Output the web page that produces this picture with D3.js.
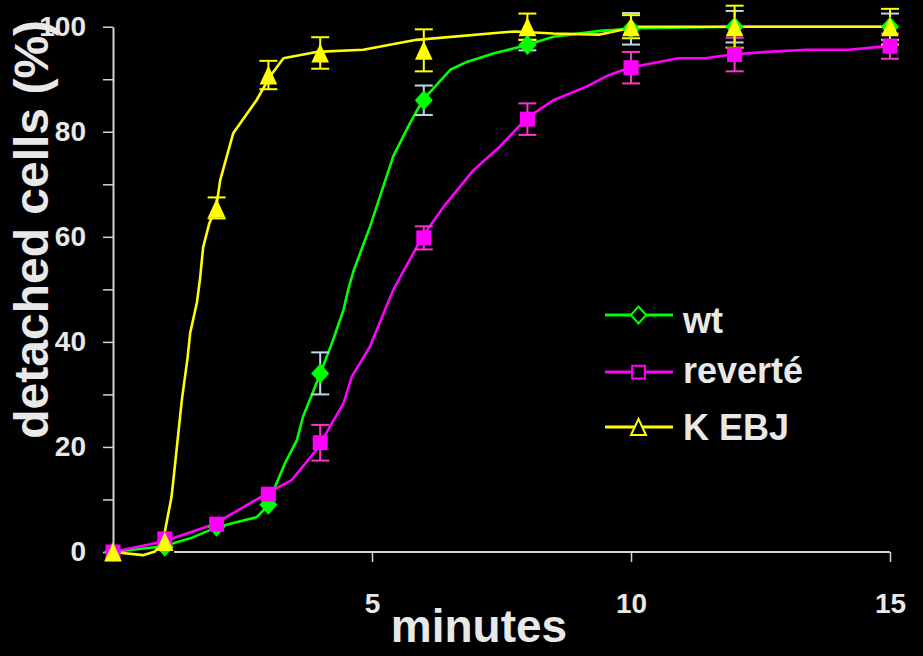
<!DOCTYPE html>
<html>
<head>
<meta charset="utf-8">
<script src="https://cdn.jsdelivr.net/npm/d3@7"></script>
<style>
  html, body { margin: 0; padding: 0; background: #000; }
  svg { display: block; }
  text { font-family: "Liberation Sans", Arial, sans-serif; font-weight: bold; fill: #e8e8e8; }
</style>
</head>
<body>
<svg id="chart" width="923" height="656"></svg>
<script>
// ---------- data ----------
const times = [0, 1, 2, 3, 4, 6, 8, 10, 12, 15];

const wtMean = [0, 1, 4.8, 9, 34, 86, 96.5, 99.6, 100, 100];
const wtErr  = [0, 0, 0, 0, 4, 2.8, 1, 3, 3, 2.5];

const revMean = [0, 2.5, 5.3, 11, 20.8, 59.8, 82.4, 92.2, 94.7, 96.3];
const revErr  = [0, 0, 0, 0, 3.4, 2.2, 3, 3, 3.2, 2.4];

const kebjMean = [0, 2, 65.5, 90.8, 95, 95.5, 100, 100, 100, 100];
const kebjErr  = [0, 0, 2, 2.7, 3, 4, 2.5, 2.2, 4, 3.4];

// curve traces: [minutes, %]
const wtCurve = [[0,0],[0.97,1.1],[1.49,2.6],[1.95,4.5],[2.32,5.5],[2.77,6.6],[3.0,8.9],[3.13,12.4],
  [3.32,16.9],[3.55,21.3],[3.67,25.8],[4.0,33.9],[4.25,40.4],[4.45,46.1],[4.54,49.9],[4.64,53.4],
  [4.96,61.9],[5.41,75.3],[5.73,81.6],[5.98,86],[6.51,91.8],[6.83,93.3],[7.34,94.9],[7.99,96.5],
  [8.5,98.1],[9.4,99.2],[10.17,99.7],[12,100],[15,100]];

const revCurve = [[0,0],[0.97,2],[1.95,5.3],[3.0,11.3],[3.45,13.7],[3.9,19.1],[4.0,20.6],[4.19,23.9],
  [4.45,28.3],[4.61,33.4],[4.96,39.1],[5.41,49.9],[5.8,56.9],[5.96,59.8],[6.38,65.7],[6.96,72.7],
  [7.47,77.2],[7.99,82.6],[8.5,86],[9.14,88.6],[9.53,90.6],[9.96,92.2],[10.91,94],[11.43,94],
  [11.95,94.7],[12.62,95.2],[13.39,95.6],[14.2,95.6],[14.96,96.3]];

const kebjCurve = [[0,0],[0.58,-0.6],[0.81,0.1],[0.97,2.3],[1.13,10.5],[1.18,15],[1.33,29],[1.44,37],
  [1.49,41.7],[1.62,47.5],[1.68,52],[1.74,58],[1.86,62.6],[1.99,65.5],[2.07,70.8],[2.32,79.7],
  [2.77,86],[3.03,90.5],[3.29,94],[3.93,95.2],[4.83,95.6],[5.86,97.5],[7.75,99.1],[8.5,98.7],
  [9.4,98.5],[10.1,100],[15,100]];

const seriesNames = ["wt", "revert\u00e9", "K EBJ"];
const xTickValues = [5, 10, 15];
const yTickValues = [0, 10, 20, 30, 40, 50, 60, 70, 80, 90, 100];
const xTitle = "minutes";
const yTitle = "detached cells (%)";

// ---------- layout ----------
const svg = d3.select("#chart");
const x = d3.scaleLinear().domain([0, 15]).range([113, 890]);
const y = d3.scaleLinear().domain([0, 100]).range([552, 26.7]);
const axisColor = "#d4d4d4";

const series = [
  { name: seriesNames[0], mean: wtMean, err: wtErr, curve: wtCurve, color: "#00ff00", errColor: "#b8dce4", shape: "diamond" },
  { name: seriesNames[1], mean: revMean, err: revErr, curve: revCurve, color: "#ff00ff", errColor: "#ff33cc", shape: "square" },
  { name: seriesNames[2], mean: kebjMean, err: kebjErr, curve: kebjCurve, color: "#ffff00", errColor: "#ffff00", shape: "triangle" }
];

function shapePath(shape, s) {
  if (shape === "diamond") return `M0,${-10*s}L${9*s},0L0,${10*s}L${-9*s},0Z`;
  if (shape === "square") return `M${-7.5*s},${-7.5*s}H${7.5*s}V${7.5*s}H${-7.5*s}Z`;
  return `M0,${-9.5*s}L${8.8*s},${9.5*s}H${-8.8*s}Z`;
}

// ---------- axes ----------
const yAxis = d3.axisLeft(y)
  .tickValues(yTickValues)
  .tickSize(10)
  .tickSizeOuter(0)
  .tickPadding(17)
  .tickFormat(d => d % 20 === 0 ? d : "");
const gy = svg.append("g").attr("transform", `translate(${x(0)},0)`).call(yAxis);
gy.select(".domain").attr("stroke", axisColor).attr("stroke-width", 2);
gy.selectAll(".tick line").attr("stroke", axisColor).attr("stroke-width", 1.5);
gy.selectAll(".tick text").attr("font-size", 28).attr("fill", "#e8e8e8")
  .style("font-family", "'Liberation Sans', Arial, sans-serif").style("font-weight", "bold");

const xAxis = d3.axisBottom(x)
  .tickValues(xTickValues)
  .tickSize(10)
  .tickSizeOuter(0)
  .tickPadding(31);
const gx = svg.append("g").attr("transform", `translate(0,${y(0)})`).call(xAxis);
gx.select(".domain").remove();
gx.selectAll(".tick line").attr("stroke", axisColor).attr("stroke-width", 1.5);
gx.selectAll(".tick text").attr("font-size", 28).attr("fill", "#e8e8e8")
  .style("font-family", "'Liberation Sans', Arial, sans-serif").style("font-weight", "bold");
svg.append("line")
  .attr("x1", x(1.18)).attr("x2", x(15))
  .attr("y1", y(0)).attr("y2", y(0))
  .attr("stroke", axisColor).attr("stroke-width", 2);

// titles
svg.append("text")
  .attr("transform", `translate(48,${(y(0) + y(100)) / 2 - 60}) rotate(-90)`)
  .attr("text-anchor", "middle")
  .attr("font-size", 48)
  .text(yTitle);
svg.append("text")
  .attr("x", 479).attr("y", 642)
  .attr("text-anchor", "middle")
  .attr("font-size", 46)
  .text(xTitle);

// ---------- lines ----------
const line = d3.line().x(d => x(d[0])).y(d => y(d[1]));
series.forEach(s => {
  svg.append("path")
    .datum(s.curve)
    .attr("d", line)
    .attr("fill", "none")
    .attr("stroke", s.color)
    .attr("stroke-width", 2.6)
    .attr("stroke-linejoin", "round");
});

// ---------- error bars ----------
series.forEach(s => {
  const pts = times.map((t, i) => ({ t, m: s.mean[i], e: s.err[i] })).filter(d => d.e > 0);
  const g = svg.append("g").attr("stroke", s.errColor).attr("stroke-width", 2);
  g.selectAll("line.v").data(pts).join("line")
    .attr("x1", d => x(d.t)).attr("x2", d => x(d.t))
    .attr("y1", d => y(d.m - d.e)).attr("y2", d => y(d.m + d.e));
  g.selectAll("line.top").data(pts).join("line")
    .attr("x1", d => x(d.t) - 9).attr("x2", d => x(d.t) + 9)
    .attr("y1", d => y(d.m + d.e)).attr("y2", d => y(d.m + d.e));
  g.selectAll("line.bot").data(pts).join("line")
    .attr("x1", d => x(d.t) - 9).attr("x2", d => x(d.t) + 9)
    .attr("y1", d => y(d.m - d.e)).attr("y2", d => y(d.m - d.e));
});

// ---------- markers ----------
series.forEach(s => {
  svg.append("g").selectAll("path")
    .data(times.map((t, i) => [t, s.mean[i]]))
    .join("path")
    .attr("transform", d => `translate(${x(d[0])},${y(d[1])})`)
    .attr("d", shapePath(s.shape, 1))
    .attr("fill", s.color);
});

// ---------- legend ----------
const legendY = [315, 372, 427];
const legendBase = [333, 383, 440];
series.forEach((s, i) => {
  const g = svg.append("g");
  g.append("line").attr("x1", 605).attr("x2", 673)
    .attr("y1", legendY[i]).attr("y2", legendY[i])
    .attr("stroke", s.color).attr("stroke-width", 3);
  g.append("path")
    .attr("transform", `translate(638.5,${legendY[i]})`)
    .attr("d", shapePath(s.shape, 0.85))
    .attr("fill", "#000").attr("stroke", s.color).attr("stroke-width", 2);
  g.append("text").attr("x", 683).attr("y", legendBase[i])
    .attr("font-size", 36).text(s.name);
});
</script>
</body>
</html>
